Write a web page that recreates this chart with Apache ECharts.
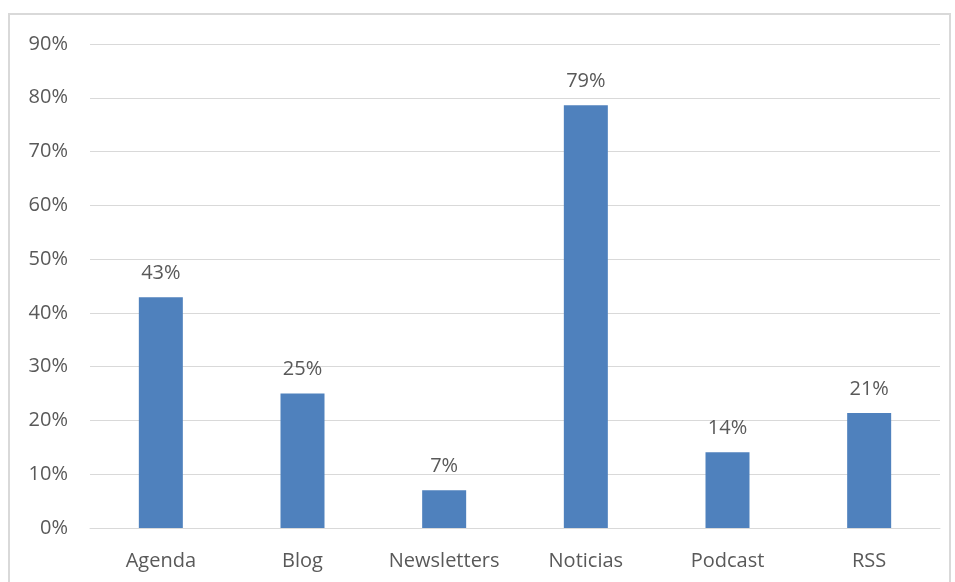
<!DOCTYPE html>
<html>
<head>
<meta charset="utf-8">
<script src="https://cdn.jsdelivr.net/npm/echarts@6/dist/echarts.min.js"></script>
<style>
html, body { margin: 0; padding: 0; background: #fff; }
#chartmain { width: 955px; height: 582px; }
</style>
</head>
<body>
<div id="chartmain"></div>
<script>
var categories = ['Agenda', 'Blog', 'Newsletters', 'Noticias', 'Podcast', 'RSS'];
var values = [42.9, 25.0, 7.0, 78.6, 14.1, 21.4];
var tickLabels = ['0%', '10%', '20%', '30%', '40%', '50%', '60%', '70%', '80%', '90%'];

var textColor = '#595959';
var font = 'Open Sans';

var option = {
	animation: false,
	graphic: [{
		type: 'rect',
		shape: { x: 9, y: 14, width: 941, height: 580 },
		style: { fill: 'none', stroke: '#d9d9d9', lineWidth: 2 },
		silent: true
	}],
	grid: {
		left: 90,
		right: 15,
		top: 44,
		bottom: 54
	},
	xAxis: {
		type: 'category',
		data: categories,
		axisTick: { show: false },
		axisLine: { lineStyle: { color: '#d9d9d9', width: 1 } },
		axisLabel: { color: textColor, fontFamily: font, fontSize: 20, margin: 23, interval: 0, hideOverlap: false }
	},
	yAxis: {
		type: 'value',
		min: 0,
		max: 90,
		interval: 10,
		axisLine: { show: false },
		axisTick: { show: false },
		splitLine: { lineStyle: { color: '#d9d9d9', width: 1 } },
		axisLabel: {
			color: textColor, fontFamily: font, fontSize: 20, margin: 22,
			formatter: function (v) { return tickLabels[Math.round(v / 10)]; }
		}
	},
	series: [{
		type: 'bar',
		data: values,
		barWidth: 44,
		itemStyle: { color: '#4f81bd' },
		label: {
			show: true,
			position: 'top',
			distance: 14,
			color: textColor,
			fontFamily: font,
			fontSize: 20,
			formatter: function (p) { return Math.round(p.value) + '%'; }
		}
	}]
};

var myChart = echarts.init(document.getElementById('chartmain'));
myChart.setOption(option);
</script>
</body>
</html>
